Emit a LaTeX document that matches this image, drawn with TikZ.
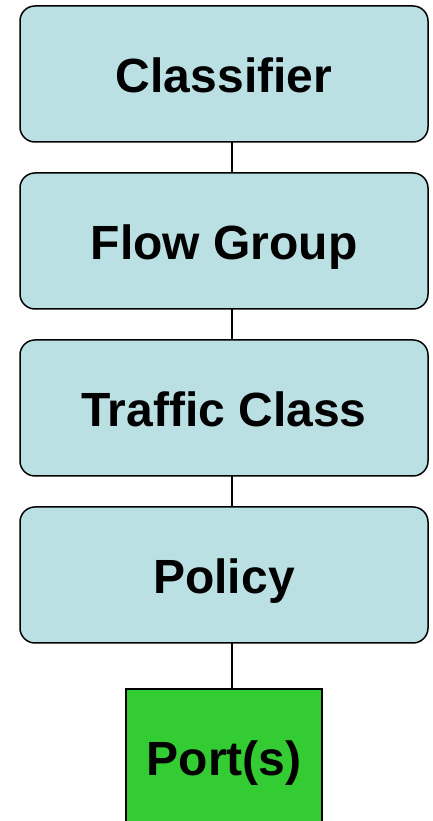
\documentclass[tikz,border=0pt]{standalone}
\usepackage{fontspec}
\setmainfont{Liberation Sans}
\usepackage{xcolor}
\usepackage{tikz}
\usetikzlibrary{positioning}
\definecolor{boxblue}{HTML}{BBE0E3}
\definecolor{portgreen}{HTML}{33CC33}

\begin{document}
\begin{tikzpicture}[x=1pt,y=1pt]
\tikzstyle{every node}=[font=\fontsize{48}{52}\selectfont\bfseries, text height=49pt, text depth=12pt]
\tikzstyle{layer}=[draw, line width=1.5pt, fill=boxblue, rounded corners=15pt, minimum width=408pt, minimum height=136pt, inner sep=0pt, outer sep=0pt]
\tikzstyle{portbox}=[draw, line width=1.5pt, fill=portgreen, minimum width=196pt, minimum height=136pt, inner sep=0pt, outer sep=0pt]
\useasboundingbox (0,0) rectangle (432,821);

% Draw boxes
\node[layer] (classifier) at (224,747) {Classifier};
\node[layer, below=31pt of classifier] (flowgroup) {Flow Group};
\node[layer, below=31pt of flowgroup] (trafficclass) {Traffic Class};
\node[layer, below=31pt of trafficclass] (policy) {Policy};
\node[portbox, below=46pt of policy] (port) {Port(s)};

% Draw lines
\draw [line width=1.5pt] ([xshift=8pt]classifier.south) -- ([xshift=8pt]flowgroup.north);
\draw [line width=1.5pt] ([xshift=8pt]flowgroup.south) -- ([xshift=8pt]trafficclass.north);
\draw [line width=1.5pt] ([xshift=8pt]trafficclass.south) -- ([xshift=8pt]policy.north);
\draw [line width=1.5pt] ([xshift=8pt]policy.south) -- ([xshift=8pt]port.north);

\end{tikzpicture}
\end{document}
